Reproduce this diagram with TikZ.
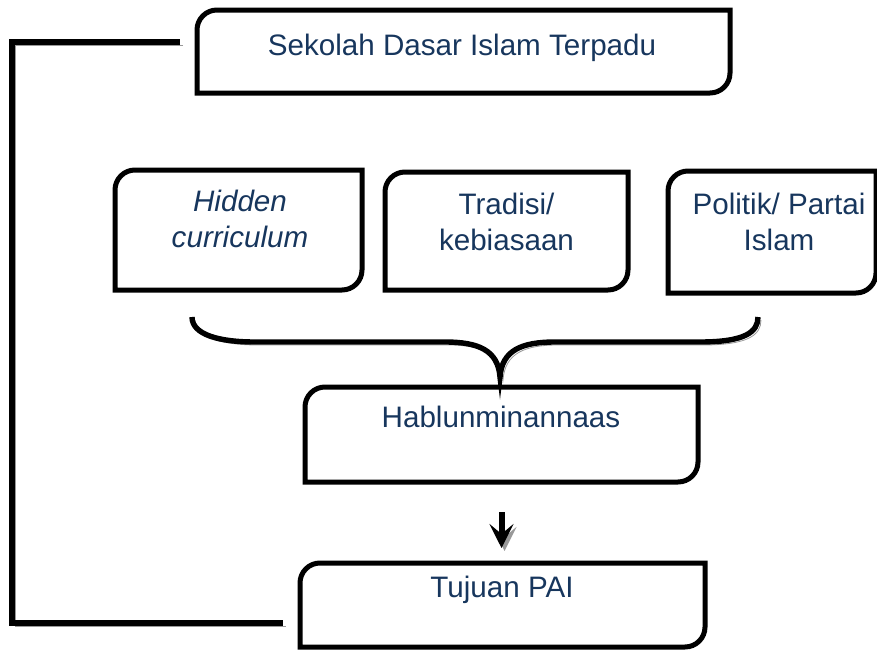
\documentclass[tikz,border=0pt]{standalone}
\usepackage{fontspec}
\setmainfont{Liberation Sans}
\usetikzlibrary{arrows.meta}
\definecolor{navy}{RGB}{23,54,93}

% outline with rounded top-left and bottom-right corners
\newcommand{\diagbox}[1]{%
  \draw[boxline] (#1.south west) -- ([yshift=-10pt]#1.north west)
    arc[start angle=180,end angle=90,radius=10pt] -- (#1.north east)
    -- ([yshift=10pt]#1.south east)
    arc[start angle=0,end angle=-90,radius=10pt] -- cycle;}

\begin{document}
\begin{tikzpicture}[x=0.5pt,y=0.5pt,>={Stealth[length=12pt,width=12pt,inset=5pt]}]
  \tikzstyle{every node}=[inner sep=0pt,outer sep=0pt]
  \tikzstyle{boxline}=[line width=2.5pt]
  \tikzstyle{txt}=[text=navy,font=\fontsize{14.8}{18}\selectfont,align=center,anchor=base]
  \tikzstyle{shade}=[preaction={draw=black!40,transform canvas={xshift=1.5pt,yshift=-1.5pt}}]
  \tikzstyle{link}=[line width=2.7pt,shade]

  \useasboundingbox (0,0) rectangle (877,650);

  \node[minimum width=266.5pt,minimum height=41.5pt] (top) at (463.5,598.5) {};
  \node[minimum width=123.5pt,minimum height=60pt]   (hid) at (238.5,420) {};
  \node[minimum width=121.5pt,minimum height=59pt]   (trad) at (506.5,419) {};
  \node[minimum width=104pt,minimum height=61pt]     (pol) at (772,418) {};
  \node[minimum width=196.5pt,minimum height=47.5pt] (hab) at (501.5,215.5) {};
  \node[minimum width=202.5pt,minimum height=42pt]   (tuj) at (502.5,45) {};

  \diagbox{top} \diagbox{hid} \diagbox{trad}
  \diagbox{pol} \diagbox{hab} \diagbox{tuj}

  \node[txt] (topt)  at (462,595) {Sekolah Dasar Islam Terpadu};
  \node[txt] (hidt)  at (240,403) {\itshape Hidden\\\itshape curriculum};
  \node[txt] (tradt) at (506.5,400) {Tradisi/\\kebiasaan};
  \node[txt] (polt)  at (779,400) {Politik/ Partai\\Islam};
  \node[txt] (habt)  at (501,223) {Hablunminannaas};
  \node[txt] (tujt)  at (502,53) {Tujuan PAI};

  % brace
  \draw[link] (192,333) .. controls (192,315) and (220,308) .. (255,308) -- (445,308)
    .. controls (478,308) and (498,300) .. (500,273)
    .. controls (502,300) and (522,308) .. (555,308) -- (700,308)
    .. controls (745,308) and (758,318) .. (758,333);

  % feedback line
  \coordinate (fbtop) at (180,608);
  \coordinate (fbbot) at (283,27);
  \draw[link] (fbtop) -- ++(-168,0) |- (fbbot);

  \draw[->,shade,line width=3pt,shorten <=15pt,shorten >=7.5pt]
    (hab.south) -- (hab.south |- tuj.north);
\end{tikzpicture}
\end{document}
